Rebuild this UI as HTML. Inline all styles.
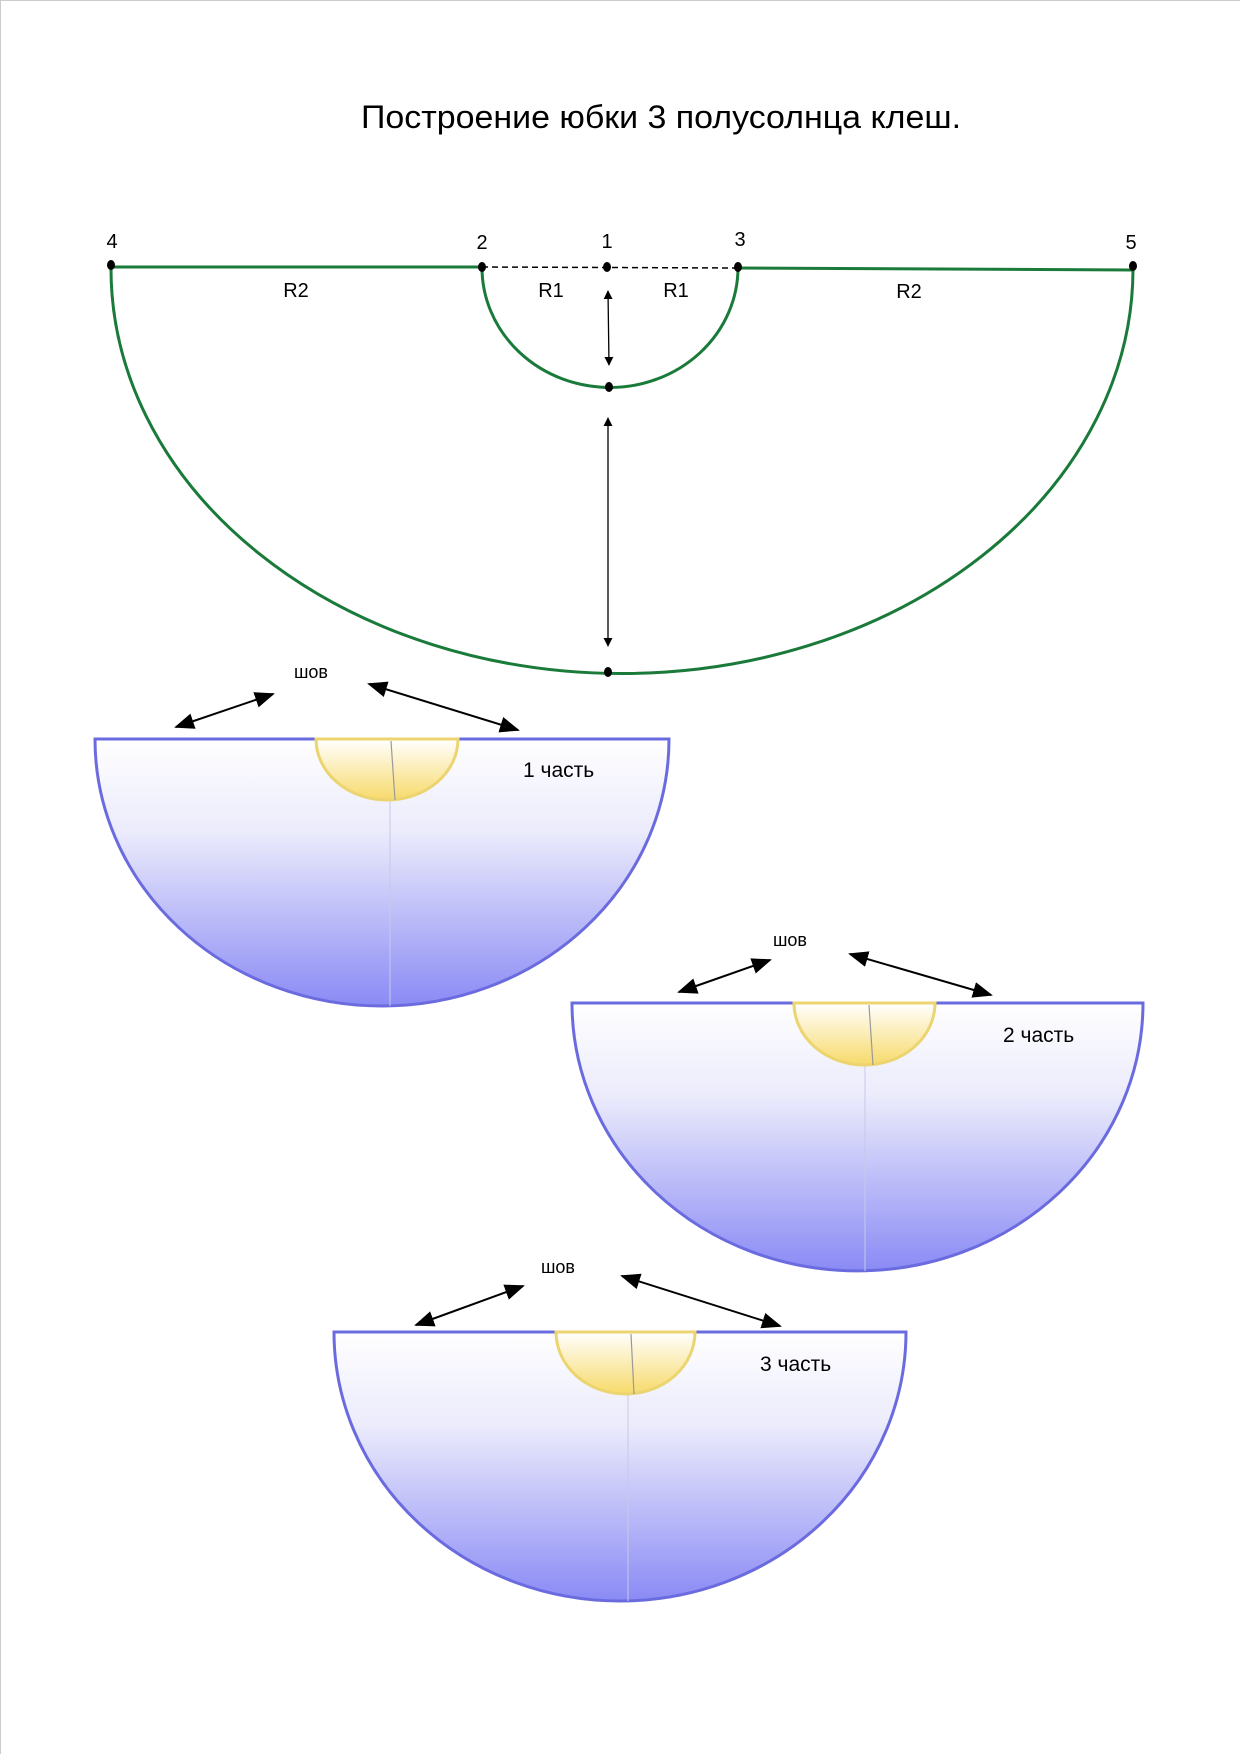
<!DOCTYPE html>
<html><head><meta charset="utf-8"><style>
html,body{margin:0;padding:0;background:#fff}
svg{display:block}
text{font-family:"Liberation Sans",Arial,sans-serif;fill:#000}
</style></head><body>
<svg width="1240" height="1754" viewBox="0 0 1240 1754" xmlns="http://www.w3.org/2000/svg">
<defs>
<linearGradient id="bl" x1="0" y1="0" x2="0" y2="1">
<stop offset="0" stop-color="#ffffff"/><stop offset="0.35" stop-color="#ebebfc"/><stop offset="1" stop-color="#8a8af5"/>
</linearGradient>
<linearGradient id="yl" x1="0" y1="0" x2="0" y2="1">
<stop offset="0" stop-color="#ffffff"/><stop offset="1" stop-color="#f7da6a"/>
</linearGradient>
<marker id="a" viewBox="0 0 10 10" refX="9" refY="5" markerWidth="7" markerHeight="7" orient="auto-start-reverse"><path d="M0,0 L10,5 L0,10 z" fill="#000"/></marker>
<marker id="s" viewBox="0 0 10 10" refX="9" refY="5" markerWidth="10" markerHeight="10" orient="auto-start-reverse"><path d="M0,1 L10,5 L0,9 z" fill="#000"/></marker>
</defs>
<line x1="0.5" y1="0" x2="0.5" y2="1754" stroke="#ccc"/>
<line x1="0" y1="0.5" x2="1240" y2="0.5" stroke="#ccc"/>

<text x="361" y="128" font-size="32" textLength="600" lengthAdjust="spacingAndGlyphs">Построение  юбки 3 полусолнца клеш.</text>

<g stroke="#1a7a3a" stroke-width="3" fill="none">
<line x1="111" y1="267" x2="482" y2="267"/>
<line x1="738" y1="268" x2="1133" y2="270"/>
<path d="M482,267 A128,120 0 0 0 738,268"/>
<path d="M111,267 A511,405 0 0 0 1133,270"/>
</g>
<line x1="482" y1="267" x2="738" y2="268" stroke="#000" stroke-width="1.5" stroke-dasharray="6,4"/>
<g fill="#000">
<ellipse cx="111" cy="265" rx="4" ry="5"/><ellipse cx="482" cy="267" rx="4" ry="5"/>
<ellipse cx="607" cy="267" rx="4" ry="5"/><ellipse cx="738" cy="267" rx="4" ry="5"/>
<ellipse cx="1133" cy="266" rx="4" ry="5"/><ellipse cx="609" cy="387" rx="4" ry="5"/>
<ellipse cx="608" cy="672" rx="4" ry="5"/>
</g>
<g font-size="20" text-anchor="middle">
<text x="112" y="248">4</text><text x="482" y="249">2</text><text x="607" y="248">1</text>
<text x="740" y="246">3</text><text x="1131" y="249">5</text>
<text x="296" y="297">R2</text><text x="551" y="297">R1</text><text x="676" y="297">R1</text><text x="909" y="298">R2</text>
</g>
<line x1="608" y1="291" x2="609" y2="365" stroke="#000" stroke-width="1.3" marker-start="url(#a)" marker-end="url(#a)"/>
<line x1="608" y1="418" x2="608" y2="646" stroke="#000" stroke-width="1.3" marker-start="url(#a)" marker-end="url(#a)"/>

<!-- piece 1 -->
<path d="M95,739 L669,739 A287,267 0 0 1 95,739 Z" fill="url(#bl)" stroke="#6b6be0" stroke-width="3"/>
<line x1="390" y1="800" x2="390" y2="1006" stroke="#c8c8e8" stroke-width="1"/>
<path d="M316,739 L458,739 A71,61 0 0 1 316,739 Z" fill="url(#yl)" stroke="#ecd470" stroke-width="3"/>
<line x1="391" y1="741" x2="395" y2="800" stroke="#999" stroke-width="1.2"/>
<text x="311" y="678" font-size="18" text-anchor="middle">шов</text>
<text x="523" y="777" font-size="21">1 часть</text>
<line x1="176" y1="727" x2="273" y2="694" stroke="#000" stroke-width="2" marker-start="url(#s)" marker-end="url(#s)"/>
<line x1="369" y1="684" x2="518" y2="730" stroke="#000" stroke-width="2" marker-start="url(#s)" marker-end="url(#s)"/>

<!-- piece 2 -->
<path d="M572,1003 L1143,1003 A285.5,268 0 0 1 572,1003 Z" fill="url(#bl)" stroke="#6b6be0" stroke-width="3"/>
<line x1="865" y1="1065" x2="865" y2="1271" stroke="#c8c8e8" stroke-width="1"/>
<path d="M794,1003 L935,1003 A70.5,62 0 0 1 794,1003 Z" fill="url(#yl)" stroke="#ecd470" stroke-width="3"/>
<line x1="869" y1="1005" x2="873" y2="1065" stroke="#999" stroke-width="1.2"/>
<text x="790" y="946" font-size="18" text-anchor="middle">шов</text>
<text x="1003" y="1042" font-size="21">2 часть</text>
<line x1="679" y1="992" x2="770" y2="960" stroke="#000" stroke-width="2" marker-start="url(#s)" marker-end="url(#s)"/>
<line x1="850" y1="954" x2="991" y2="995" stroke="#000" stroke-width="2" marker-start="url(#s)" marker-end="url(#s)"/>

<!-- piece 3 -->
<path d="M334,1332 L906,1332 A286,269 0 0 1 334,1332 Z" fill="url(#bl)" stroke="#6b6be0" stroke-width="3"/>
<line x1="628" y1="1394" x2="628" y2="1601" stroke="#c8c8e8" stroke-width="1"/>
<path d="M556,1332 L695,1332 A69.5,62 0 0 1 556,1332 Z" fill="url(#yl)" stroke="#ecd470" stroke-width="3"/>
<line x1="631" y1="1334" x2="634" y2="1394" stroke="#999" stroke-width="1.2"/>
<text x="558" y="1273" font-size="18" text-anchor="middle">шов</text>
<text x="760" y="1371" font-size="21">3 часть</text>
<line x1="416" y1="1325" x2="523" y2="1286" stroke="#000" stroke-width="2" marker-start="url(#s)" marker-end="url(#s)"/>
<line x1="622" y1="1276" x2="780" y2="1326" stroke="#000" stroke-width="2" marker-start="url(#s)" marker-end="url(#s)"/>
</svg>
</body></html>
